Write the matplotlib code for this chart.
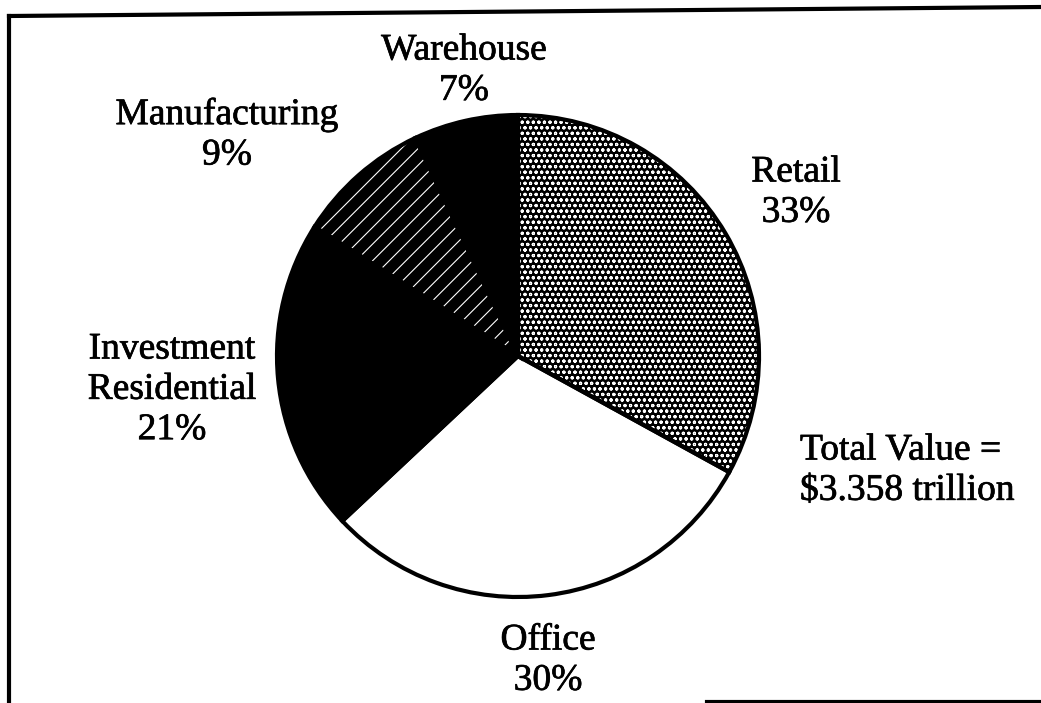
import matplotlib.pyplot as plt
import matplotlib.patheffects as pe

# slices, clockwise from 12 o'clock
sectors = ['Retail', 'Office', 'Investment\nResidential', 'Manufacturing', 'Warehouse']
shares = [33, 30, 21, 9, 7]
fills = ['black', 'white', 'black', 'black', 'black']
patterns = ['ooo', None, None, '//', None]
total_note = 'Total Value =\n$3.358 trillion'

W, H = 1041, 703
plt.rcParams['font.family'] = ['Liberation Serif', 'DejaVu Serif']
plt.rcParams['hatch.linewidth'] = 0.8

fig = plt.figure(figsize=(W / 100, H / 100), dpi=100)
ax = fig.add_axes([0, 0, 1, 1])

# pie centre / radius in pixels (y measured from top in the picture)
cx, cy, r = 518, H - 356, 241

wedges, _ = ax.pie(shares, colors=fills, startangle=90, counterclock=False,
                   center=(cx, cy), radius=r, wedgeprops=dict(linewidth=0))
for w, p in zip(wedges, patterns):
    if p:
        w.set_hatch(p)
        w.set_edgecolor('white')  # hatch takes the edge colour

# black outlines on top
outline, _ = ax.pie(shares, startangle=90, counterclock=False,
                    center=(cx, cy), radius=r,
                    wedgeprops=dict(fill=False, linewidth=3, edgecolor='black'))

# label anchor: (x, top of first line)
label_pos = [(796, 155), (548, 623), (172, 332), (227, 97), (464, 33)]
fs = 27
heavy = [pe.withStroke(linewidth=0.5, foreground='black')]
for name, val, (x, y) in zip(sectors, shares, label_pos):
    ax.text(x, H - y, f'{name}\n{val}%', ha='center', va='top', fontsize=fs,
            linespacing=1.22, multialignment='center', path_effects=heavy)

ax.text(800, H - 433, total_note, ha='left', va='top', fontsize=fs,
        linespacing=1.22, multialignment='left', path_effects=heavy)

# frame around the figure (scanned page, slightly skewed)
ax.plot([9, 9], [0, H - 16], color='black', lw=3, clip_on=False)
ax.plot([9, W], [H - 16, H - 7], color='black', lw=3, clip_on=False)
ax.plot([707, W], [1, 1], color='black', lw=3, clip_on=False)

ax.set_xlim(0, W)
ax.set_ylim(0, H)
ax.axis('off')

fig.savefig('out.png', dpi=100, facecolor='white')
